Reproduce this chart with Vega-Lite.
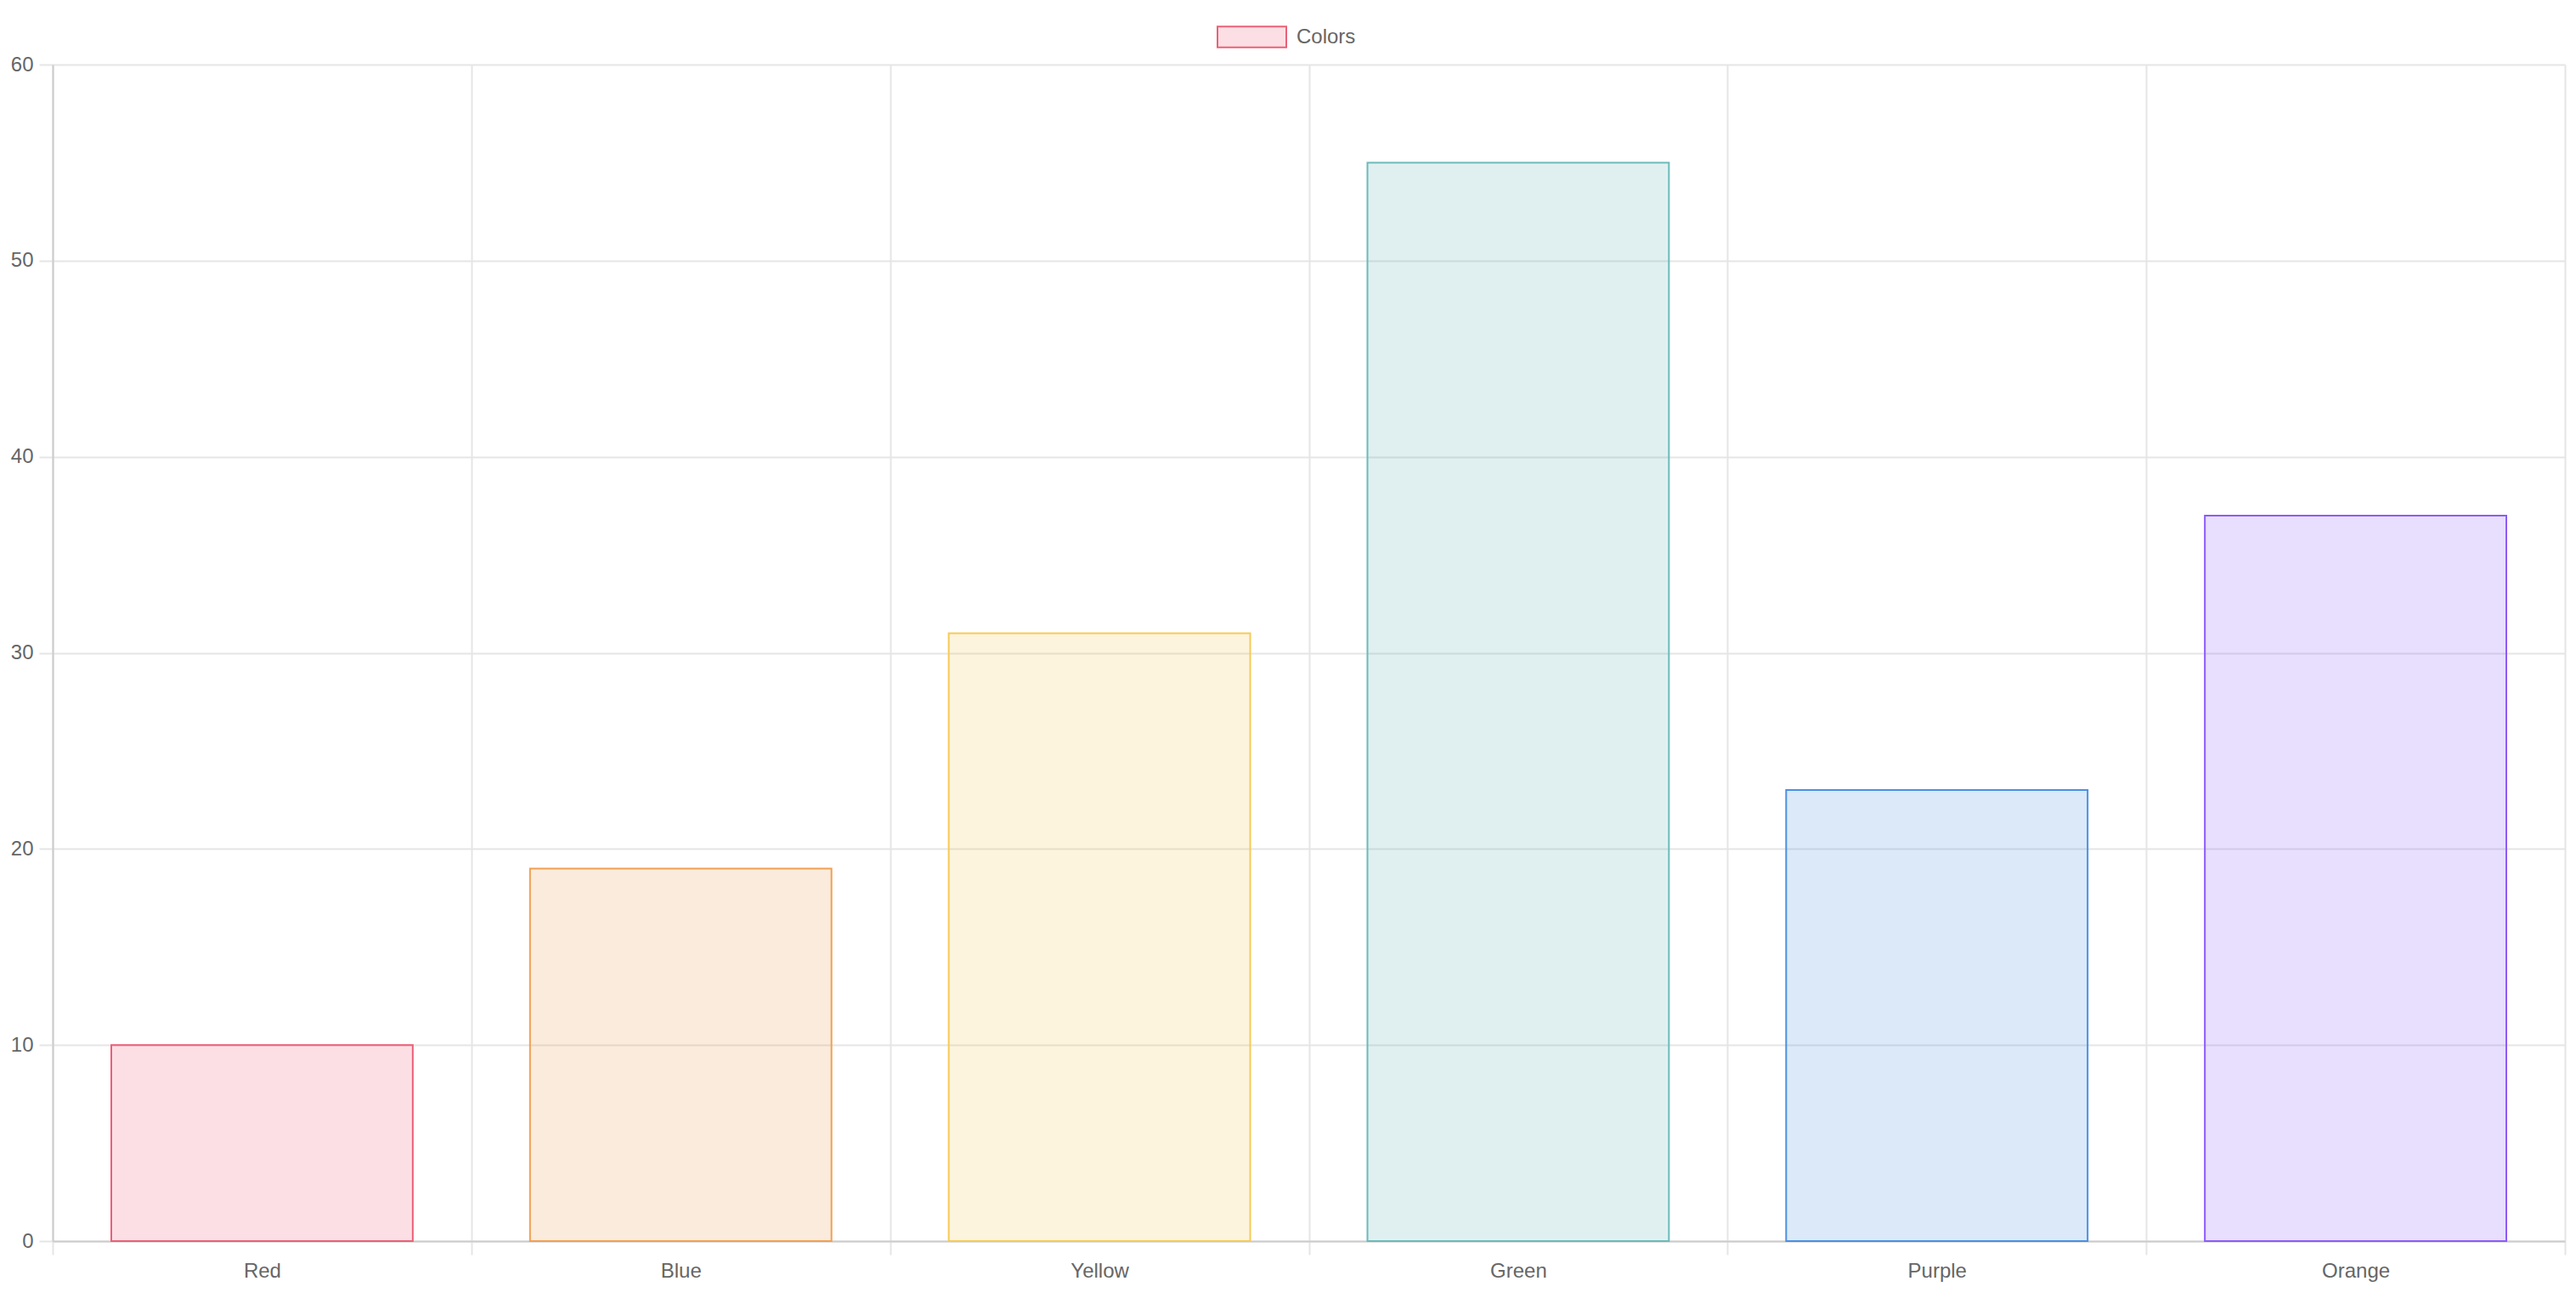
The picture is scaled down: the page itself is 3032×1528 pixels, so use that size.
{
  "$schema": "https://vega.github.io/schema/vega-lite/v6.json",
  "autosize": {"type": "none"},
  "width": 2957,
  "height": 1385,
  "padding": {"left": 62, "top": 76, "right": 13, "bottom": 67},
  "background": "white",
  "config": {
    "view": {"stroke": null},
    "font": "Liberation Sans",
    "axis": {
      "labelFont": "Liberation Sans",
      "labelFontSize": 24,
      "labelColor": "#666666",
      "gridColor": "#e5e5e5",
      "gridWidth": 2,
      "tickColor": "#e5e5e5",
      "tickWidth": 2,
      "tickSize": 16,
      "domainColor": "#cccccc",
      "domainWidth": 2,
      "title": null
    }
  },
  "data": {
    "values": [
      {"label": "Red", "value": 10},
      {"label": "Blue", "value": 19},
      {"label": "Yellow", "value": 31},
      {"label": "Green", "value": 55},
      {"label": "Purple", "value": 23},
      {"label": "Orange", "value": 37}
    ]
  },
  "layer": [
    {
      "mark": {"type": "bar", "width": {"band": 0.72}, "strokeWidth": 2},
      "encoding": {
        "x": {
          "field": "label",
          "type": "nominal",
          "sort": null,
          "scale": {"paddingInner": 0, "paddingOuter": 0},
          "axis": {
            "tickBand": "extent",
            "labelAngle": 0,
            "labelPadding": 7,
            "grid": true
          }
        },
        "y": {
          "field": "value",
          "type": "quantitative",
          "scale": {"domain": [0, 60], "nice": false},
          "axis": {"values": [0, 10, 20, 30, 40, 50, 60], "labelPadding": 7, "grid": true}
        },
        "fill": {
          "field": "label",
          "type": "nominal",
          "sort": null,
          "legend": null,
          "scale": {
            "domain": ["Red", "Blue", "Yellow", "Green", "Purple", "Orange"],
            "range": ["rgba(234,96,120,0.2)", "rgba(232,156,78,0.2)", "rgba(240,200,85,0.2)", "rgba(100,180,180,0.2)", "rgba(74,144,226,0.2)", "rgba(139,92,246,0.2)"]
          }
        },
        "stroke": {
          "field": "label",
          "type": "nominal",
          "sort": null,
          "legend": null,
          "scale": {
            "domain": ["Red", "Blue", "Yellow", "Green", "Purple", "Orange"],
            "range": ["rgb(234,96,120)", "rgb(240,160,82)", "rgb(246,202,88)", "rgb(108,186,186)", "rgb(74,144,226)", "rgb(139,92,246)"]
          }
        }
      }
    },
    {
      "mark": {"type": "point", "filled": true, "fill": "#fbdfe4", "opacity": 0},
      "encoding": {
        "x": {"field": "label", "type": "nominal", "sort": null},
        "y": {"field": "value", "type": "quantitative"},
        "shape": {
          "datum": "Colors",
          "scale": {"range": ["M-1,-0.3L1,-0.3L1,0.3L-1,0.3Z"]},
          "legend": {
            "title": null,
            "orient": "none",
            "legendX": 1370,
            "legendY": -74,
            "padding": 0,
            "labelFont": "Liberation Sans",
            "labelFontSize": 24,
            "labelColor": "#666666",
            "labelOffset": 11,
            "symbolSize": 6561,
            "symbolType": "M-1,-0.3L1,-0.3L1,0.3L-1,0.3Z",
            "symbolOpacity": 1
          }
        }
      }
    },
    {
      "mark": {"type": "point", "filled": false, "strokeWidth": 2, "opacity": 0},
      "encoding": {
        "x": {"field": "label", "type": "nominal", "sort": null},
        "y": {"field": "value", "type": "quantitative"},
        "color": {
          "datum": "Colors",
          "scale": {"range": ["#ea6078"]},
          "legend": {
            "title": null,
            "orient": "none",
            "legendX": 1370,
            "legendY": -74,
            "padding": 0,
            "labelFont": "Liberation Sans",
            "labelFontSize": 24,
            "labelColor": "#666666",
            "labelOffset": 11,
            "symbolSize": 6561,
            "symbolType": "M-1,-0.3L1,-0.3L1,0.3L-1,0.3Z",
            "symbolStrokeWidth": 2,
            "symbolOpacity": 1
          }
        }
      }
    }
  ]
}
